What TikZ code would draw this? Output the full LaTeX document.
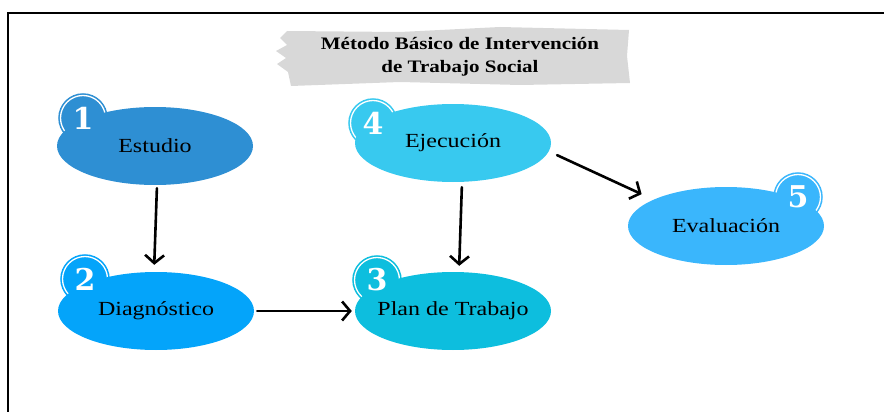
\documentclass[tikz,border=0pt]{standalone}
\usepackage{fontspec}
\setmainfont{Liberation Serif}[FakeStretch=1.2]
\newfontfamily\numfont{DejaVu Serif}
\usetikzlibrary{shapes.geometric, arrows.meta}

\definecolor{cestudio}{RGB}{46,143,211}
\definecolor{cdiag}{RGB}{4,164,250}
\definecolor{cplan}{RGB}{13,190,222}
\definecolor{cejec}{RGB}{56,201,239}
\definecolor{ceval}{RGB}{58,182,252}
\definecolor{brocha}{RGB}{216,216,216}

\tikzset{
	paso/.style={ellipse, minimum width=196pt, minimum height=78pt, inner xsep=-30pt, inner ysep=-4pt, font=\fontsize{20}{24}\selectfont},
	insignia/.style={circle, minimum size=45pt, inner sep=0pt, line width=1.6pt, double=white, double distance=1.3pt},
	numero/.style={text=white, inner sep=0pt, font=\numfont\bfseries\fontsize{30}{30}\selectfont},
	flecha/.style={-{Straight Barb[length=8pt,width=19pt]}, line width=2.6pt, line cap=round}
}

\begin{document}
\begin{tikzpicture}[x=1pt, y=-1pt]
	\useasboundingbox (0,0) rectangle (884,412);
	\clip (0,0) rectangle (884,412);
	%frame
	\draw[line width=2pt] (8,430) |- (900,13);
	
	%title
	\fill[brocha] (287,31) -- (400,32) -- (500,27) -- (629,30) -- (627,56) -- (630,83) -- (520,85) -- (400,82) -- (291,86)
		-- (288,72) -- (277,64) -- (286,58) -- (276,51) -- (287,45) -- (280,38) -- cycle;
	\node[align=center, font=\bfseries\fontsize{17.5}{23}\selectfont] (titulo) at (460,57) {Método Básico de Intervención\\de Trabajo Social};
	
	%badges
	\foreach \n/\bx/\by/\c in {1/83/118/cestudio, 2/85/279/cdiag, 3/377/280/cplan, 4/373/123/cejec, 5/798/197/ceval}{
		\node[insignia, fill=\c, draw=\c] (b\n) at (\bx,\by) {};
	}
	
	%steps
	\node[paso, fill=cestudio] (e1) at (155,146) {Estudio};
	\node[paso, fill=cdiag] (e2) at (156,311) {Diagnóstico};
	\node[paso, fill=cplan] (e3) at (453,311) {Plan de Trabajo};
	\node[paso, fill=cejec] (e4) at (453,143) {Ejecución};
	\node[paso, fill=ceval] (e5) at (726,226) {Evaluación};
	
	\foreach \n in {1,...,5}{
		\node[numero] (n\n) at (b\n) {\n};
	}
	
	%arrows
	\draw[flecha, shorten <=3pt, shorten >=7pt] ([xshift=2pt]e1.south) -- ([xshift=-2pt]e2.north);
	\draw[flecha, shorten <=3pt, shorten >=3pt] (e2.east) -- (e3.west);
	\draw[flecha, shorten <=5pt, shorten >=6pt] ([xshift=9pt]e4.south) -- ([xshift=6pt]e3.north);
	\draw[flecha, shorten <=9pt, shorten >=13pt] (e4.-5) -- (e5.160);
\end{tikzpicture}
\end{document}
